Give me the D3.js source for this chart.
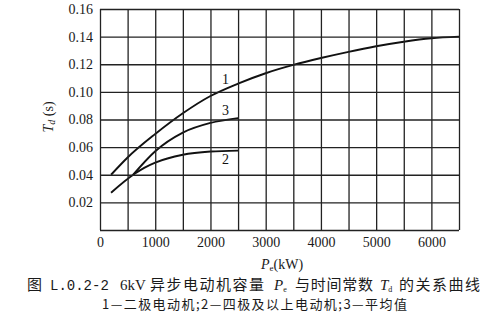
<!DOCTYPE html>
<html>
<head>
<meta charset="utf-8">
<script src="https://cdn.jsdelivr.net/npm/d3@7/dist/d3.min.js"></script>
<style>
  html, body { margin: 0; padding: 0; background: #fff; }
  svg { display: block; }
  .serif { font-family: "Liberation Serif", "DejaVu Serif", serif; }
  .cjk { font-family: "Noto Sans CJK SC", sans-serif; }
</style>
</head>
<body>
<svg id="chart" width="500" height="325"></svg>
<script>
// Motor rated power P_e (kW) and time constant T_d (s)
const curve1P = [200, 500, 1000, 1500, 2000, 2500, 3000, 3500, 4000, 4500, 5000, 5500, 6000, 6500];
const curve1T = [0.040, 0.0525, 0.0695, 0.0845, 0.0970, 0.1060, 0.1135, 0.1195, 0.1245, 0.1290, 0.1330, 0.1363, 0.1388, 0.1400];

const curve2P = [200, 620, 800, 1000, 1500, 2000, 2500];
const curve2T = [0.027, 0.0405, 0.0450, 0.0488, 0.0545, 0.0568, 0.0575];

const curve3P = [600, 1000, 1500, 2000, 2500];
const curve3T = [0.0400, 0.0570, 0.0705, 0.0775, 0.0810];

const curveNames = ["1", "2", "3"];
const xTicks = [0, 1000, 2000, 3000, 4000, 5000, 6000];
const yTicks = [0.02, 0.04, 0.06, 0.08, 0.10, 0.12, 0.14, 0.16];
const xGridStep = 500;
const yGridStep = 0.02;

(function () {
const svg = d3.select("#chart");
const plotLeft = 100, plotRight = 459, plotTop = 9, plotBottom = 230;
const plotW = plotRight - plotLeft, plotH = plotBottom - plotTop;

const x = d3.scaleLinear().domain([0, 6500]).range([plotLeft, plotRight]);
const y = d3.scaleLinear().domain([0, 0.16]).range([plotBottom, plotTop]);

// axes (labels only)
const xAxis = svg.append("g").attr("transform", `translate(0,${plotBottom})`)
  .call(d3.axisBottom(x).tickValues(xTicks).tickSize(0).tickPadding(7).tickFormat(d3.format("d")));
const yAxis = svg.append("g").attr("transform", `translate(${plotLeft},0)`)
  .call(d3.axisLeft(y).tickValues(yTicks).tickSize(0).tickPadding(7).tickFormat(d3.format(".2f")));
[xAxis, yAxis].forEach(a => {
  a.select(".domain").remove();
  a.selectAll("text").attr("class", "serif").attr("font-size", 14).attr("fill", "#1a1a1a");
});

// curves
const line = d3.line().x(d => x(d[0])).y(d => y(d[1])).curve(d3.curveMonotoneX);
const series = [
  d3.zip(curve1P, curve1T),
  d3.zip(curve2P, curve2T),
  d3.zip(curve3P, curve3T)
];
svg.append("g").selectAll("path").data(series).join("path")
  .attr("d", line)
  .attr("fill", "none")
  .attr("stroke", "#111")
  .attr("stroke-width", 1.9);

// grid every 500 kW and every 0.02 s, from axis tick lines
const xGrid = svg.append("g").attr("transform", `translate(0,${plotBottom})`)
  .call(d3.axisBottom(x).tickValues(d3.range(0, 6500 + 1, xGridStep)).tickSize(-plotH).tickFormat(""));
const yGrid = svg.append("g").attr("transform", `translate(${plotLeft},0)`)
  .call(d3.axisLeft(y).tickValues(d3.range(0, 9).map(i => i * yGridStep)).tickSize(-plotW).tickFormat(""));
[xGrid, yGrid].forEach(g => {
  g.select(".domain").remove();
  g.selectAll(".tick line").attr("stroke", "#222").attr("stroke-width", 1.3);
});

// curve numbers, placed near P = 2200 kW on each curve
const labelAt = 2200;
const labelOffset = [-7, 13, -6];
series.forEach((pts, i) => {
  const k = pts.findIndex(p => p[0] >= labelAt);
  const a = pts[k - 1], b = pts[k];
  const v = a[1] + (b[1] - a[1]) * (labelAt - a[0]) / (b[0] - a[0]);
  svg.append("text").attr("class", "serif")
    .attr("x", x(labelAt) + 4).attr("y", y(v) + labelOffset[i])
    .attr("text-anchor", "middle").attr("font-size", 14).attr("fill", "#111")
    .text(curveNames[i]);
});

// axis titles
const xt = svg.append("text").attr("class", "serif").attr("font-size", 14).attr("fill", "#1a1a1a")
  .attr("x", 282).attr("y", 269).attr("text-anchor", "middle");
xt.append("tspan").attr("font-style", "italic").text("P");
xt.append("tspan").attr("font-size", 9).attr("dy", 2).text("e");
xt.append("tspan").attr("dy", -2).text("(kW)");

const yt = svg.append("text").attr("class", "serif").attr("font-size", 14).attr("fill", "#1a1a1a")
  .attr("transform", "translate(53,117) rotate(-90)").attr("text-anchor", "middle");
yt.append("tspan").attr("font-style", "italic").text("T");
yt.append("tspan").attr("font-style", "italic").attr("font-size", 10).attr("dy", 2).text("d");
yt.append("tspan").attr("dy", -2).text(" (s)");

// caption
const cap = svg.append("g").attr("fill", "#1a1a1a");
const base1 = 290;
cap.append("text").attr("class", "cjk").attr("font-size", 15).attr("x", 27).attr("y", base1).text("图");
cap.append("text").attr("font-family", "Liberation Mono, monospace").attr("font-size", 14)
  .attr("x", 50).attr("y", base1).text("L.0.2-2");
cap.append("text").attr("class", "serif").attr("font-size", 15).attr("x", 120).attr("y", base1).text("6kV");
cap.append("text").attr("class", "cjk").attr("font-size", 15)
  .attr("x", 150).attr("y", base1).attr("textLength", 114).attr("lengthAdjust", "spacing")
  .text("异步电动机容量");
const pe = cap.append("text").attr("class", "serif").attr("font-size", 15).attr("x", 274).attr("y", base1);
pe.append("tspan").attr("font-style", "italic").text("P");
pe.append("tspan").attr("font-size", 8).attr("dy", 1.5).text("e");
cap.append("text").attr("class", "cjk").attr("font-size", 15)
  .attr("x", 295).attr("y", base1).attr("textLength", 78).attr("lengthAdjust", "spacing")
  .text("与时间常数");
const td = cap.append("text").attr("class", "serif").attr("font-size", 15).attr("x", 380).attr("y", base1);
td.append("tspan").attr("font-style", "italic").text("T");
td.append("tspan").attr("font-size", 8).attr("dy", 1.5).text("d");
cap.append("text").attr("class", "cjk").attr("font-size", 15)
  .attr("x", 399).attr("y", base1).attr("textLength", 81).attr("lengthAdjust", "spacing")
  .text("的关系曲线");

cap.append("text").attr("class", "cjk").attr("font-size", 13)
  .attr("x", 102).attr("y", 309)
  .attr("textLength", 305).attr("lengthAdjust", "spacing")
  .text("1—二极电动机;2—四极及以上电动机;3—平均值");
})();
</script>
</body>
</html>
